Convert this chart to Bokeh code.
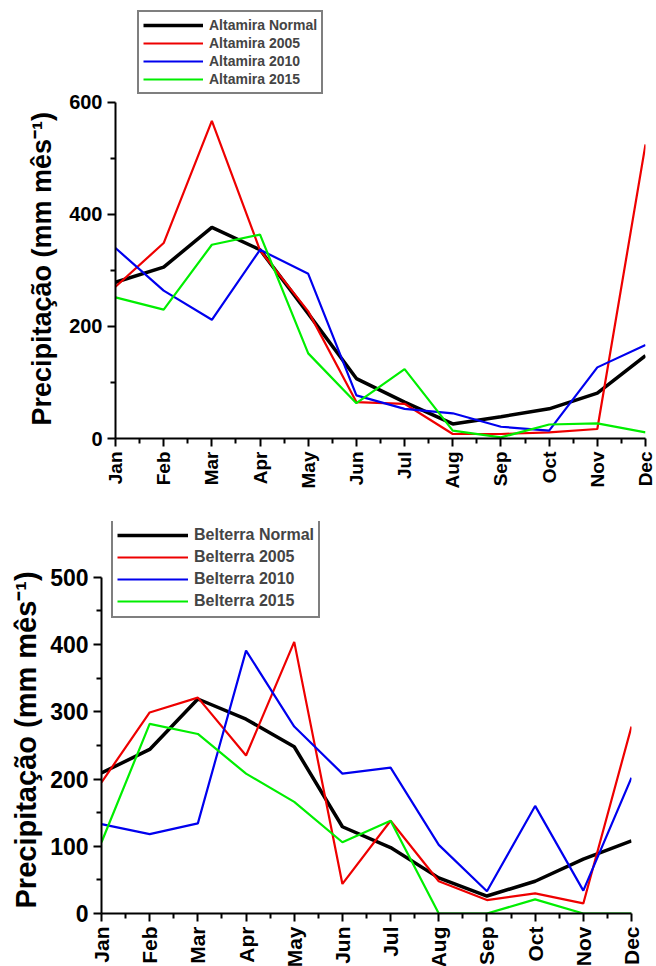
import math
from bokeh.plotting import figure
from bokeh.models import Range1d, FixedTicker, Legend, LegendItem, Title
from bokeh.embed import file_html
from bokeh.resources import INLINE

months = ["Jan", "Feb", "Mar", "Apr", "May", "Jun", "Jul", "Aug", "Sep", "Oct", "Nov", "Dec"]

alt_normal = [279, 306, 377, 337, 223, 107, 65, 26, 39, 53, 81, 148]
alt_2005 = [271, 349, 567, 336, 227, 65, 62, 8, 8, 11, 17, 525]
alt_2010 = [340, 264, 212, 337, 294, 77, 53, 45, 21, 14, 127, 167]
alt_2015 = [252, 230, 346, 364, 152, 63, 124, 14, 2, 25, 27, 11]

bel_normal = [209, 244, 319, 289, 248, 129, 98, 53, 26, 48, 81, 108]
bel_2005 = [195, 299, 321, 235, 404, 44, 138, 48, 20, 30, 15, 278]
bel_2010 = [133, 118, 134, 391, 278, 208, 217, 102, 33, 160, 34, 202]
bel_2015 = [106, 282, 267, 208, 166, 106, 138, 0, 0, 21, 0, 0]

alt_labels = ["Altamira Normal", "Altamira 2005", "Altamira 2010", "Altamira 2015"]
bel_labels = ["Belterra Normal", "Belterra 2005", "Belterra 2010", "Belterra 2015"]

alt_yticks = [0, 200, 400, 600]
alt_yminor = [100, 300, 500]
bel_yticks = [0, 100, 200, 300, 400, 500]
bel_yminor = [50, 150, 250, 350, 450]

colors = ["#000000", "#ee0000", "#0000ee", "#00ee00"]
widths = [3.5, 2.2, 2.2, 2.2]

FONT = "Liberation Sans"
YLABEL = "Precipitação (mm mês⁻¹)"
x = list(range(12))


def make_panel(series, labels, ytop, yticks, yminor, frame_w, frame_h, borders,
               xtick_size, ytick_size, label_size, label_offset, label_standoff,
               legend_loc, legend_cfg):
    bl, br, bt, bb = borders
    p = figure(frame_width=frame_w, frame_height=frame_h, output_backend="svg",
               toolbar_location=None,
               x_range=Range1d(0, 11), y_range=Range1d(0, ytop),
               min_border_left=bl, min_border_right=br, min_border_top=bt,
               min_border_bottom=bb)
    p.outline_line_color = None
    p.xgrid.grid_line_color = None
    p.ygrid.grid_line_color = None
    p.background_fill_color = "white"
    p.border_fill_color = "white"

    items = []
    for s, lab, c, w in zip(series, labels, colors, widths):
        r = p.line(x, s, line_color=c, line_width=w)
        items.append(LegendItem(label=lab, renderers=[r]))

    p.xaxis.ticker = FixedTicker(ticks=x, minor_ticks=[i + 0.5 for i in range(11)])
    p.xaxis.major_label_overrides = {i: m for i, m in enumerate(months)}
    p.xaxis.major_label_orientation = math.pi / 2
    p.yaxis.ticker = FixedTicker(ticks=yticks, minor_ticks=yminor)
    p.yaxis.bounds = (yticks[0], yticks[-1])

    for ax in (p.xaxis, p.yaxis):
        ax.axis_line_width = 2
        ax.axis_line_color = "black"
        ax.major_tick_line_width = 2
        ax.minor_tick_line_width = 2
        ax.major_tick_out = 8
        ax.major_tick_in = 0
        ax.minor_tick_out = 5
        ax.minor_tick_in = 0
        ax.major_label_text_font = FONT
        ax.major_label_text_font_style = "bold"
        ax.major_label_text_color = "black"
    p.xaxis.major_label_text_font_size = xtick_size
    p.yaxis.major_label_text_font_size = ytick_size
    p.xaxis.major_label_standoff = 5
    p.yaxis.major_label_standoff = 5

    t = Title(text=YLABEL, align="left", offset=label_offset,
              text_font=FONT, text_font_style="bold", text_font_size=label_size,
              text_color="black", standoff=label_standoff)
    p.add_layout(t, "left")

    gw, lh, fs, pad = legend_cfg
    legend = Legend(items=items, location=legend_loc, orientation="vertical",
                    glyph_width=gw, glyph_height=lh, label_height=lh,
                    label_text_font=FONT, label_text_font_style="bold",
                    label_text_font_size=fs, label_standoff=6, spacing=0,
                    padding=pad, margin=0,
                    border_line_color="black", border_line_width=2,
                    background_fill_color="white", background_fill_alpha=1.0)
    p.add_layout(legend, "center")
    return p


p1 = make_panel([alt_normal, alt_2005, alt_2010, alt_2015], alt_labels, 766,
                alt_yticks, alt_yminor, 530, 429, (115, 10, 9, 0),
                "19px", "20px", "27px", 13, 20, (22, 344), (60, 18, "14px", 4))
p2 = make_panel([bel_normal, bel_2005, bel_2010, bel_2015], bel_labels, 583,
                bel_yticks, bel_yminor, 530, 392, (101, 24, 30, 0),
                "21px", "23px", "29px", 5, 12, (10, 295), (71, 22, "16px", 4))

open("out.html", "w").write(file_html([p1, p2], INLINE))
